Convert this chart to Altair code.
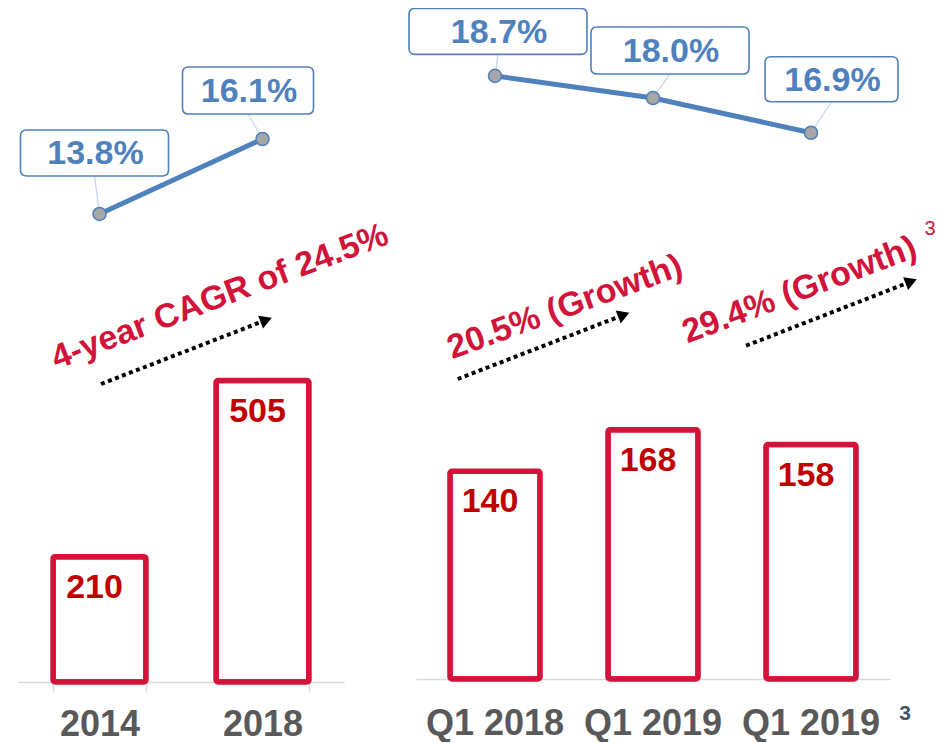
import math
import altair as alt
import pandas as pd

# ---------------- data ----------------
left_cats = ["2014", "2018"]
left_vals = [210, 505]
left_rates = [13.8, 16.1]

right_cats = ["Q1 2018", "Q1 2019", "Q1 2019³"]
right_vals = [140, 168, 158]
right_rates = [18.7, 18.0, 16.9]

left_note = "4-year CAGR of 24.5%"
right_notes = ["20.5% (Growth)", "29.4% (Growth)"]
footnote_mark = "3"

# ---------------- style ----------------
FONT = "Liberation Sans"
RED = "#D2143A"
DARK_RED = "#C00000"
BLUE = "#4F81BD"
LEADER = "#C5D5EA"
GREY_TXT = "#595959"
AXIS_GREY = "#D9D9D9"

# callout layout per point: (dx, dy, w, h) of the label box relative to the point
left_callouts = [(-5, -61, 148, 46), (-14.5, -48.5, 131, 47)]
right_callouts = [(3, -44.5, 178, 46), (17, -47.5, 158, 47), (20.5, -53.5, 133, 45)]


def rrect(cx, cy, w, h, r=6):
    x0, x1, y0, y1 = cx - w / 2, cx + w / 2, cy - h / 2, cy + h / 2
    return (f"M{x0 + r},{y0}H{x1 - r}Q{x1},{y0} {x1},{y0 + r}V{y1 - r}"
            f"Q{x1},{y1} {x1 - r},{y1}H{x0 + r}Q{x0},{y1} {x0},{y1 - r}"
            f"V{y0 + r}Q{x0},{y0} {x0 + r},{y0}Z")


dummy = pd.DataFrame({"a": [0]})


def note_text(text, x, y, angle, size=34, weight="bold"):
    return alt.Chart(pd.DataFrame({"t": [text]})).mark_text(
        angle=angle, fontSize=size, fontWeight=weight, color=RED, font=FONT,
        align="center", baseline="middle",
    ).encode(x=alt.value(x), y=alt.value(y), text="t:N")


def arrow(x0, y0, x1, y1):
    ang = math.atan2(y1 - y0, x1 - x0)
    ux, uy = math.cos(ang), math.sin(ang)
    ex, ey = x1 - 12 * ux, y1 - 12 * uy
    rule = alt.Chart(dummy).mark_rule(
        color="black", strokeWidth=4, strokeDash=[4, 3.5], strokeCap="butt"
    ).encode(x=alt.value(x0), y=alt.value(y0), x2=alt.value(ex), y2=alt.value(ey))
    head = alt.Chart(dummy).mark_point(
        shape="triangle-right", filled=True, color="black", opacity=1, size=190,
        angle=math.degrees(ang) % 360,
    ).encode(x=alt.value(x1 - 7 * ux), y=alt.value(y1 - 7 * uy))
    return [rule, head]


def panel(cats, vals, rates, callouts, width, height, bar_max, rate_dom, axis, extra):
    df = pd.DataFrame({"cat": cats, "val": vals, "rate": rates})
    df["label"] = [f"{r:.1f}%" for r in rates]
    x = alt.X("cat:N", sort=cats, title=None, axis=axis,
              scale=alt.Scale(paddingInner=0.43, paddingOuter=0.215))
    ybar = alt.Y("val:Q", axis=None,
                 scale=alt.Scale(domain=[0, bar_max], nice=False, zero=True))
    yrate = alt.Y("rate:Q", axis=None,
                  scale=alt.Scale(domain=rate_dom, nice=False, zero=False))
    base = alt.Chart(df)

    bars = base.mark_bar(fill="white", stroke=RED, strokeWidth=5.5,
                         cornerRadius=2).encode(x=x, y=ybar)
    barlab = base.mark_text(font=FONT, fontSize=34, fontWeight="bold",
                            color=DARK_RED, dx=-5, dy=31,
                            baseline="middle").encode(x=x, y=ybar, text="val:Q")

    leaders, boxes, texts = [], [], []
    for c, (dx, dy, w, h) in zip(cats, callouts):
        sub = base.transform_filter(alt.datum.cat == c)
        leaders.append(sub.mark_point(
            shape=f"M0,0L{dx},{dy + h / 2}", size=4, filled=False,
            stroke=LEADER, strokeWidth=1.3, opacity=1).encode(x=x, y=yrate))
        boxes.append(sub.mark_point(
            shape=rrect(dx, dy, w, h), size=4, filled=True, fill="white",
            stroke=BLUE, strokeWidth=1.6, opacity=1).encode(x=x, y=yrate))
        texts.append(sub.mark_text(
            font=FONT, fontSize=34, fontWeight="bold", color=BLUE,
            dx=dx + 1, dy=dy + 1.5, baseline="middle").encode(x=x, y=yrate, text="label:N"))

    line = base.mark_line(color=BLUE, strokeWidth=5).encode(x=x, y=yrate)
    pts = base.mark_point(filled=True, fill="#A6A6A6", stroke=BLUE, strokeWidth=1.5,
                          size=170, opacity=1).encode(x=x, y=yrate)

    layers = [bars, barlab] + leaders + [line, pts] + boxes + texts + extra
    return alt.layer(*layers).resolve_scale(y="independent").properties(
        width=width, height=height)


axis_common = dict(labelFont=FONT, labelFontSize=36, labelFontWeight="bold",
                   labelColor=GREY_TXT, labelAngle=0, domainColor=AXIS_GREY,
                   domainWidth=1.5, grid=False)

left_axis = alt.Axis(tickBand="extent", tickSize=10, tickColor=AXIS_GREY,
                     tickWidth=1.5, labelPadding=15, **axis_common)
right_axis = alt.Axis(ticks=False, tickSize=0, labelPadding=27,
                      labelExpr="replace(datum.label, '³', '')", **axis_common)

left_extra = [note_text(left_note, 202, 290, 339.3)] + arrow(83, 377, 254.7, 310.5)

sup_df = pd.DataFrame({"cat": [right_cats[2]], "t": [footnote_mark]})
tick_sup = alt.Chart(sup_df).mark_text(
    font=FONT, fontSize=21, fontWeight="bold", color="#44546A", dx=94,
    baseline="middle").encode(
    x=alt.X("cat:N", sort=right_cats, title=None, axis=right_axis,
            scale=alt.Scale(paddingInner=0.43, paddingOuter=0.215)),
    y=alt.value(707), text="t:N")

right_extra = ([note_text(right_notes[0], 149, 300.5, 340),
                note_text(right_notes[1], 383.6, 283.5, 339.3),
                note_text(footnote_mark, 514, 221.5, 0, size=20, weight="normal")]
               + arrow(41.7, 372, 214.3, 305.3)
               + arrow(330, 338.7, 501.7, 272)
               + [tick_sup])

left = panel(left_cats, left_vals, left_rates, left_callouts, 326, 675, 1131,
             [-0.56, 20.15], left_axis, left_extra)
right = panel(right_cats, right_vals, right_rates, right_callouts, 474, 672, 453,
              [-0.39, 20.88], right_axis, right_extra)

chart = alt.hconcat(left, right, spacing=72).properties(
    bounds="flush", padding={"left": 9, "top": -3, "right": 5, "bottom": 0}
).configure_view(stroke="transparent", strokeWidth=0)

chart.save("out.html", embed_options={"renderer": "svg", "actions": False})
